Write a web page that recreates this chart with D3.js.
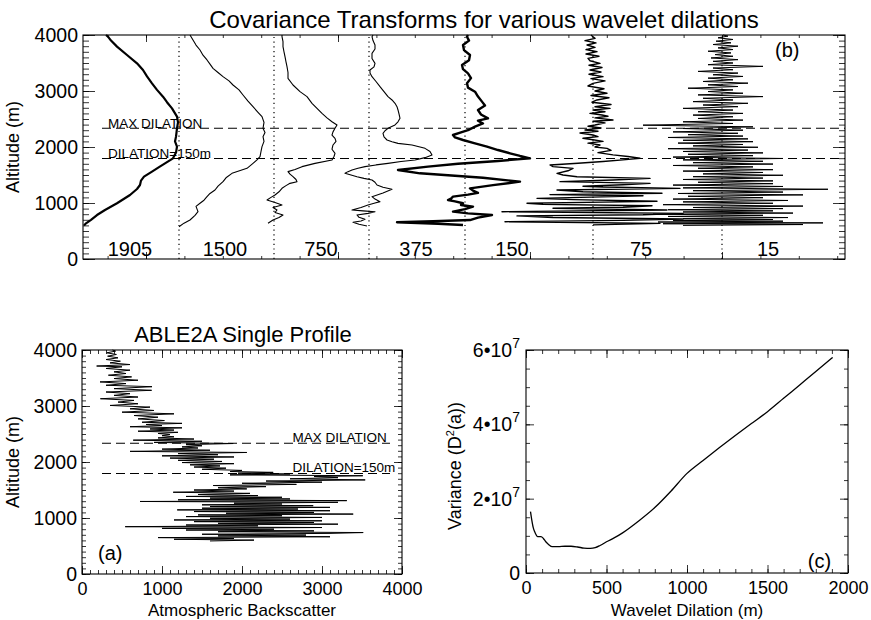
<!DOCTYPE html>
<html>
<head>
<meta charset="utf-8">
<title></title>
<script src="https://cdnjs.cloudflare.com/ajax/libs/d3/7.8.5/d3.min.js"></script>
<style>
  body { margin: 0; background-color: white }
  svg text { font-family: "Liberation Sans", Arial, Helvetica, sans-serif; fill: black }
</style>
</head>
<body>
<div id="chart"></div>
<script>
// ---- panel (b): covariance transforms, [altitude m, offset in panel units]
var dilations = ["1905", "1500", "750", "375", "150", "75", "15"];
var labelCenters = [47, 142, 238, 333, 429, 558, 685];
var columnEdges = [96, 191, 286, 382, 510, 639];
var lineWidths = [2.2, 1.1, 1.1, 1.1, 2.4, 1.4, 1.0];
var maxDilationAlt = 2335, dil150Alt = 1795;

var t1905 = [[600,1],[637,3],[700,8],[785,14],[875,22],[995,34],[1143,47],[1250,54],[1321,57],[1400,58],[1470,61],[1560,69],[1640,76],[1708,82],[1798,90],[1900,93],[2006,94],[2100,92],[2185,93],[2333,94],[2440,95],[2542,94],[2690,89],[2800,84],[2899,80],[3020,74],[3137,69],[3260,64],[3375,60],[3494,54],[3643,44],[3792,34],[3900,28],[3970,25],[4000,23]];
var t1500 = [[577,96],[640,101],[696,107],[780,112],[845,115],[940,113],[995,117],[1050,121],[1113,124],[1170,127],[1232,132],[1300,135],[1381,140],[1450,143],[1530,149],[1619,164],[1708,170],[1770,174],[1827,177],[1920,178],[2006,179],[2100,181],[2185,180],[2260,182],[2333,180],[2440,181],[2542,179],[2620,175],[2720,170],[2820,165],[2929,160],[3020,156],[3107,150],[3180,146],[3256,140],[3330,135],[3405,130],[3480,127],[3554,124],[3640,120],[3732,117],[3820,113],[3911,110],[4000,107]];
var t750 = [[637,185],[696,190],[740,196],[786,200],[830,192],[875,194],[920,190],[964,199],[1010,192],[1054,184],[1100,188],[1143,192],[1200,196],[1262,199],[1310,203],[1351,207],[1381,214],[1420,213],[1470,210],[1515,207],[1560,205],[1600,212],[1649,219],[1708,232],[1768,249],[1830,251],[1887,252],[1960,249],[2036,250],[2100,253],[2155,252],[2214,249],[2270,250],[2333,252],[2393,254],[2452,249],[2520,244],[2601,239],[2690,234],[2780,229],[2899,224],[2988,217],[3107,210],[3226,205],[3330,205],[3435,204],[3520,203],[3613,202],[3700,201],[3792,200],[3880,200],[3970,199],[4000,199]];
var t375 = [[589,284],[620,276],[655,270],[680,278],[708,282],[745,276],[786,274],[815,285],[845,292],[860,280],[875,269],[920,278],[964,285],[1000,292],[1024,297],[1070,292],[1113,289],[1180,300],[1244,309],[1280,300],[1321,294],[1370,292],[1411,289],[1440,281],[1470,274],[1500,268],[1530,262],[1560,265],[1589,269],[1620,275],[1649,282],[1680,293],[1708,305],[1740,318],[1768,332],[1810,342],[1857,349],[1920,347],[1976,342],[2010,335],[2036,329],[2065,315],[2095,309],[2125,304],[2180,301],[2244,300],[2290,302],[2333,305],[2393,312],[2450,315],[2512,317],[2590,316],[2661,315],[2720,314],[2780,312],[2840,309],[2899,305],[2990,301],[3077,297],[3170,293],[3256,289],[3320,287],[3375,287],[3430,291],[3494,292],[3580,289],[3673,289],[3750,292],[3821,292],[3900,290],[3970,289],[4000,290]];
var t150 = [[607,380],[630,355],[655,314],[675,350],[696,387],[740,395],[786,409],[815,385],[845,370],[890,382],[934,390],[965,378],[995,380],[1030,372],[1054,365],[1080,368],[1113,370],[1150,385],[1180,395],[1220,390],[1262,387],[1320,410],[1381,437],[1450,400],[1530,337],[1590,315],[1650,345],[1700,375],[1750,415],[1798,447],[1840,437],[1887,427],[1946,415],[2006,404],[2065,392],[2125,380],[2170,372],[2214,370],[2260,378],[2300,385],[2363,392],[2420,400],[2470,395],[2512,405],[2580,398],[2661,395],[2740,402],[2810,399],[2900,395],[2988,392],[3060,385],[3137,384],[3230,388],[3316,385],[3390,380],[3464,379],[3550,386],[3643,387],[3730,381],[3821,380],[3900,386],[3970,384],[4000,385]];
var t75 = [[610,510],[637,577],[666,422],[690,540],[715,600],[740,470],[770,434],[790,560],[815,600],[845,419],[875,584],[905,470],[925,540],[950,569],[975,460],[995,444],[1015,520],[1030,574],[1060,490],[1083,454],[1113,530],[1130,560],[1150,467],[1173,579],[1200,500],[1232,474],[1262,597],[1285,520],[1300,500],[1325,540],[1351,567],[1381,477],[1410,530],[1440,567],[1470,494],[1500,480],[1530,474],[1575,485],[1619,490],[1650,470],[1679,467],[1710,495],[1740,520],[1770,540],[1800,557],[1830,545],[1860,530],[1900,515],[1940,528],[1976,524],[2000,512],[2036,517],[2070,505],[2100,520],[2130,510],[2155,500],[2185,515],[2214,510],[2250,497],[2280,515],[2304,502],[2340,518],[2370,505],[2393,512],[2430,522],[2460,510],[2482,530],[2520,512],[2550,525],[2571,519],[2600,507],[2630,522],[2660,510],[2690,527],[2720,512],[2760,528],[2800,509],[2840,514],[2880,526],[2920,508],[2959,524],[3000,512],[3040,521],[3090,505],[3137,510],[3180,522],[3220,508],[3256,520],[3300,506],[3340,518],[3375,507],[3420,519],[3460,506],[3494,517],[3540,507],[3583,505],[3620,516],[3660,503],[3702,514],[3740,503],[3780,512],[3821,504],[3860,513],[3900,502],[3940,512],[3970,510],[4000,508]];
var t15 = [[600,600],[615,720],[630,580],[645,740],[660,575],[675,700],[690,590],[705,690],[720,600],[740,705],[760,585],[780,680],[800,570],[820,710],[840,600],[860,690],[880,585],[900,700],[920,610],[945,720],[970,580],[995,690],[1020,600],[1045,705],[1070,590],[1095,680],[1120,605],[1145,720],[1170,595],[1195,700],[1220,610],[1245,745],[1270,600],[1295,700],[1320,590],[1345,690],[1370,615],[1395,690],[1420,600],[1445,680],[1470,610],[1495,700],[1520,620],[1545,680],[1570,600],[1595,690],[1620,615],[1645,670],[1670,590],[1695,690],[1720,610],[1745,680],[1770,600],[1795,700],[1820,590],[1845,670],[1870,605],[1895,680],[1920,600],[1945,665],[1970,585],[1995,675],[2020,610],[2045,660],[2070,595],[2095,670],[2120,600],[2145,665],[2170,585],[2195,660],[2220,605],[2245,655],[2270,590],[2300,660],[2330,600],[2360,670],[2390,560],[2420,650],[2450,600],[2480,660],[2510,615],[2540,650],[2570,610],[2600,660],[2630,615],[2660,650],[2690,600],[2720,655],[2750,620],[2780,665],[2810,610],[2840,650],[2870,620],[2900,680],[2930,615],[2960,660],[2990,625],[3020,650],[3050,605],[3080,655],[3110,625],[3140,665],[3170,620],[3200,650],[3230,625],[3260,660],[3290,630],[3320,655],[3350,615],[3380,650],[3410,630],[3440,680],[3470,625],[3500,650],[3530,630],[3560,655],[3590,628],[3620,650],[3650,632],[3680,648],[3710,625],[3740,650],[3770,635],[3800,655],[3830,630],[3860,648],[3890,633],[3920,650],[3950,635],[3980,645],[4000,640]];
var transforms = [t1905, t1500, t750, t375, t150, t75, t15];

// ---- panel (a): single backscatter profile, [altitude m, backscatter]
var profile = [[590,1600],[605,2150],[620,1150],[635,1900],[650,950],[665,3100],[680,1700],[695,2800],[710,1500],[725,3100],[740,3515],[755,1700],[770,2900],[785,1300],[800,2400],[815,1000],[830,3000],[845,540],[860,2200],[875,1300],[890,3200],[905,1700],[920,2900],[935,1400],[950,3000],[965,1150],[980,2600],[995,1600],[1010,3000],[1025,1300],[1040,2500],[1055,1450],[1070,3390],[1085,1800],[1100,2900],[1115,1400],[1130,3100],[1145,1190],[1160,2700],[1175,1500],[1190,3100],[1205,1600],[1220,2890],[1235,1500],[1250,2500],[1265,1900],[1280,3200],[1295,725],[1310,3310],[1325,1200],[1340,2600],[1355,1600],[1370,2500],[1385,1300],[1400,2200],[1420,1450],[1440,2100],[1460,1140],[1480,1900],[1500,1400],[1520,2060],[1540,1700],[1560,2300],[1580,1640],[1600,2680],[1620,2000],[1640,3000],[1660,2300],[1680,3540],[1700,2600],[1720,3200],[1740,2900],[1755,3510],[1770,1850],[1785,2600],[1800,1950],[1815,2390],[1830,1850],[1850,2000],[1870,1500],[1890,1800],[1910,1400],[1930,1725],[1950,1350],[1970,1900],[1990,1250],[2010,1750],[2030,1200],[2050,1650],[2070,1100],[2090,1900],[2110,1000],[2130,1700],[2150,1200],[2170,2060],[2190,600],[2210,1600],[2230,1000],[2250,1450],[2270,1250],[2290,1500],[2310,1300],[2330,1890],[2350,900],[2370,1500],[2390,640],[2410,1400],[2430,950],[2450,1150],[2470,1000],[2490,1100],[2510,950],[2530,1200],[2550,700],[2570,1150],[2590,850],[2610,1250],[2630,600],[2650,1000],[2670,800],[2690,1250],[2710,750],[2740,1030],[2770,700],[2800,950],[2830,650],[2860,1150],[2890,500],[2920,900],[2950,600],[2980,850],[3010,350],[3040,700],[3070,450],[3100,650],[3130,230],[3160,700],[3190,400],[3220,600],[3250,300],[3280,870],[3310,400],[3345,875],[3370,300],[3400,550],[3430,225],[3460,700],[3490,400],[3520,620],[3550,330],[3580,550],[3610,400],[3640,600],[3670,300],[3700,500],[3714,183],[3740,600],[3770,350],[3800,480],[3830,300],[3860,450],[3890,320],[3920,430],[3950,310],[3980,420],[4000,380]];

// ---- panel (c): variance vs wavelet dilation
var dilation = [28,35,45,54,73,93,108,123,140,163,200,242,280,321,360,400,430,460,500,550,600,700,800,900,1000,1100,1200,1300,1400,1500,1600,1700,1800,1905];
var variance = [1.65e7,1.45e7,1.22e7,1.11e7,0.98e7,0.98e7,0.93e7,0.84e7,0.77e7,0.71e7,0.71e7,0.72e7,0.72e7,0.70e7,0.67e7,0.66e7,0.68e7,0.74e7,0.84e7,0.95e7,1.08e7,1.4e7,1.76e7,2.2e7,2.68e7,3.03e7,3.37e7,3.7e7,4.02e7,4.34e7,4.7e7,5.06e7,5.42e7,5.8e7];

var W = 871, H = 620;
var svg = d3.select("#chart").append("svg").attr("width", W).attr("height", H);

function ticks(g, gen, tr, vals, size, fmt, pad, fs) {
    var a = g.append("g").attr("transform", tr)
        .call(gen.tickValues(vals).tickSize(size).tickSizeOuter(0).tickPadding(pad || 6).tickFormat(fmt || ""))
        .attr("font-size", fs || 19.5).attr("font-family", null);
    a.select(".domain").remove();
    a.selectAll("line").attr("stroke-width", 0.8);
    return a;
}

function frame(g, x, y) {
    var xr = x.range(), yr = y.range();
    g.append("rect").attr("x", xr[0]).attr("y", yr[1])
        .attr("width", xr[1] - xr[0]).attr("height", yr[0] - yr[1])
        .attr("fill", "none").attr("stroke", "black").attr("stroke-width", 1.1);
}

// ================= panel (b)
var xb = d3.scaleLinear().domain([0, 762]).range([83, 845]);
var yb = d3.scaleLinear().domain([0, 4000]).range([259, 35]);
var gb = svg.append("g");

var altMinor = d3.range(0, 4001, 100), altMajor = [0, 1000, 2000, 3000, 4000];
ticks(gb, d3.axisLeft(yb), "translate(83,0)", altMinor, -6);
ticks(gb, d3.axisLeft(yb), "translate(83,0)", altMajor, -12, d3.format("d"), 5);
ticks(gb, d3.axisRight(yb), "translate(845,0)", altMinor, -6);
ticks(gb, d3.axisRight(yb), "translate(845,0)", altMajor, -12);
var bxMajor = [63, 255, 447, 639];
ticks(gb, d3.axisBottom(xb), "translate(0,259)", d3.range(24.6, 762, 38.4), -3);
ticks(gb, d3.axisBottom(xb), "translate(0,259)", bxMajor, -7);
ticks(gb, d3.axisTop(xb), "translate(0,35)", d3.range(24.6, 762, 38.4), -3);
ticks(gb, d3.axisTop(xb), "translate(0,35)", bxMajor, -7);
frame(gb, xb, yb);

gb.selectAll("line.sep").data(columnEdges).enter().append("line")
    .attr("x1", function(d) { return xb(d); }).attr("x2", function(d) { return xb(d); })
    .attr("y1", yb(0)).attr("y2", yb(4000))
    .attr("stroke", "black").attr("stroke-width", 1.2).attr("stroke-dasharray", "1.2,3.5");

[maxDilationAlt, dil150Alt].forEach(function(a) {
    gb.append("line").attr("x1", xb(19)).attr("x2", xb(762))
        .attr("y1", yb(a)).attr("y2", yb(a))
        .attr("stroke", "black").attr("stroke-width", 1.1).attr("stroke-dasharray", "9,5");
});

var lineB = d3.line().x(function(d) { return xb(d[1]); }).y(function(d) { return yb(d[0]); });
transforms.forEach(function(t, i) {
    gb.append("path").attr("d", lineB(t)).attr("fill", "none")
        .attr("stroke", "black").attr("stroke-width", lineWidths[i]).attr("stroke-linejoin", "round");
});

gb.selectAll("text.col").data(dilations).enter().append("text")
    .attr("x", function(d, i) { return xb(labelCenters[i]); }).attr("y", 256)
    .attr("text-anchor", "middle").attr("font-size", 20).text(function(d) { return d; });

gb.append("text").attr("x", xb(25)).attr("y", yb(maxDilationAlt)).attr("font-size", 13.5).text("MAX DILATION");
gb.append("text").attr("x", xb(25)).attr("y", yb(dil150Alt)).attr("font-size", 13.5).text("DILATION=150m");
gb.append("text").attr("x", xb(692)).attr("y", 57).attr("font-size", 20).text("(b)");
svg.append("text").attr("x", 484).attr("y", 28).attr("text-anchor", "middle").attr("font-size", 24)
    .text("Covariance Transforms for various wavelet dilations");
svg.append("text").attr("transform", "translate(19,147) rotate(-90)").attr("text-anchor", "middle")
    .attr("font-size", 18).text("Altitude (m)");

// ================= panel (a)
var xa = d3.scaleLinear().domain([0, 4000]).range([82, 402]);
var ya = d3.scaleLinear().domain([0, 4000]).range([574, 350]);
var ga = svg.append("g");
var bsMinor = d3.range(0, 4001, 100), bsMajor = [0, 1000, 2000, 3000, 4000];
ticks(ga, d3.axisLeft(ya), "translate(82,0)", altMinor, -4);
ticks(ga, d3.axisLeft(ya), "translate(82,0)", altMajor, -8, d3.format("d"), 5);
ticks(ga, d3.axisRight(ya), "translate(402,0)", altMinor, -4);
ticks(ga, d3.axisRight(ya), "translate(402,0)", altMajor, -8);
ticks(ga, d3.axisBottom(xa), "translate(0,574)", bsMinor, -4);
ticks(ga, d3.axisBottom(xa), "translate(0,574)", bsMajor, -8, d3.format("d"), 8, 18);
ticks(ga, d3.axisTop(xa), "translate(0,350)", bsMinor, -4);
ticks(ga, d3.axisTop(xa), "translate(0,350)", bsMajor, -8);
frame(ga, xa, ya);

[maxDilationAlt, dil150Alt].forEach(function(a) {
    ga.append("line").attr("x1", xa(250)).attr("x2", xa(3850))
        .attr("y1", ya(a)).attr("y2", ya(a))
        .attr("stroke", "black").attr("stroke-width", 1.1).attr("stroke-dasharray", "9,5");
});
var lineA = d3.line().x(function(d) { return xa(d[1]); }).y(function(d) { return ya(d[0]); });
ga.append("path").attr("d", lineA(profile)).attr("fill", "none")
    .attr("stroke", "black").attr("stroke-width", 1.0);

ga.append("text").attr("x", xa(2630)).attr("y", ya(maxDilationAlt) - 1).attr("font-size", 13.5).text("MAX DILATION");
ga.append("text").attr("x", xa(2630)).attr("y", ya(dil150Alt) - 1).attr("font-size", 13.5).text("DILATION=150m");
ga.append("text").attr("x", xa(200)).attr("y", 560).attr("font-size", 20).text("(a)");
svg.append("text").attr("x", 243).attr("y", 342).attr("text-anchor", "middle").attr("font-size", 22)
    .text("ABLE2A Single Profile");
svg.append("text").attr("x", 242).attr("y", 615.5).attr("text-anchor", "middle").attr("font-size", 17)
    .text("Atmospheric Backscatter");
svg.append("text").attr("transform", "translate(19,462) rotate(-90)").attr("text-anchor", "middle")
    .attr("font-size", 18).text("Altitude (m)");

// ================= panel (c)
var xc = d3.scaleLinear().domain([0, 2000]).range([526, 848]);
var yc = d3.scaleLinear().domain([0, 6e7]).range([573, 350]);
var gc = svg.append("g");
var vMinor = d3.range(0, 6e7 + 1, 5e6), vMajor = [0, 2e7, 4e7, 6e7];
var dMinor = d3.range(0, 2001, 100), dMajor = [0, 500, 1000, 1500, 2000];
ticks(gc, d3.axisLeft(yc), "translate(526,0)", vMinor, -4);
ticks(gc, d3.axisLeft(yc), "translate(526,0)", vMajor, -8);
ticks(gc, d3.axisRight(yc), "translate(848,0)", vMinor, -4);
ticks(gc, d3.axisRight(yc), "translate(848,0)", vMajor, -8);
ticks(gc, d3.axisBottom(xc), "translate(0,573)", dMinor, -4);
ticks(gc, d3.axisBottom(xc), "translate(0,573)", dMajor, -8, d3.format("d"), 8, 18);
ticks(gc, d3.axisTop(xc), "translate(0,350)", dMinor, -4);
ticks(gc, d3.axisTop(xc), "translate(0,350)", dMajor, -8);
frame(gc, xc, yc);

vMajor.forEach(function(v) {
    var t = gc.append("text").attr("x", 520).attr("y", yc(v) + 7).attr("text-anchor", "end").attr("font-size", 19.5);
    if (v === 0) { t.text("0"); return; }
    t.append("tspan").text((v / 1e7) + "\u202210");
    t.append("tspan").attr("font-size", 14).attr("dy", -9).text("7");
});

var lineC = d3.line().curve(d3.curveMonotoneX)
    .x(function(d, i) { return xc(dilation[i]); }).y(function(d) { return yc(d); });
gc.append("path").attr("d", lineC(variance)).attr("fill", "none")
    .attr("stroke", "black").attr("stroke-width", 1.3);

gc.append("text").attr("x", xc(1750)).attr("y", 568).attr("font-size", 20).text("(c)");
svg.append("text").attr("x", 687).attr("y", 615.5).attr("text-anchor", "middle").attr("font-size", 17)
    .text("Wavelet Dilation (m)");
var vl = svg.append("text").attr("transform", "translate(461,466) rotate(-90)").attr("text-anchor", "middle")
    .attr("font-size", 18);
vl.append("tspan").text("Variance (D");
vl.append("tspan").attr("font-size", 11).attr("dy", -7).text("2");
vl.append("tspan").attr("dy", 7).text("(a))");
</script>
</body>
</html>
